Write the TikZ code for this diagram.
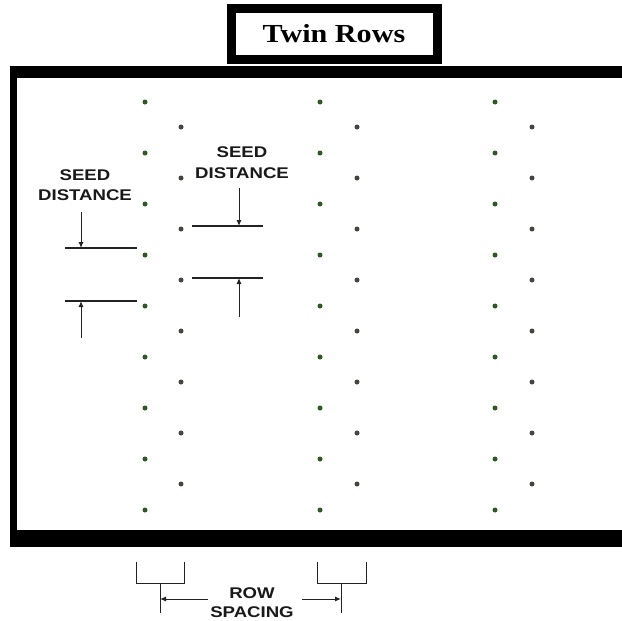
\documentclass[tikz,border=0pt]{standalone}
\usepackage{fontspec}
\setmainfont{Liberation Serif}
\newfontfamily\labelfont{Liberation Sans}
\usetikzlibrary{arrows.meta}
\definecolor{dotgreen}{RGB}{48,88,36}
\definecolor{dotgrey}{RGB}{64,72,64}
\definecolor{linegrey}{RGB}{35,35,35}
\tikzset{
  seedA/.style={circle,fill=dotgreen,inner sep=0pt,minimum size=5pt},
  seedB/.style={circle,fill=dotgrey,inner sep=0pt,minimum size=5pt},
  lbl/.style={font=\labelfont\bfseries\fontsize{15.5}{15.5}\selectfont,xscale=1.2,inner sep=0pt,text=black!90},
  refline/.style={draw=linegrey,line width=1.4pt},
  dimarrow/.style={draw=linegrey,line width=1pt,-{Latex[length=6pt,width=5pt]}},
  plainline/.style={draw=linegrey,line width=1pt}
}
\begin{document}
\begin{tikzpicture}[x=1pt,y=-1pt]
\useasboundingbox (0,0) rectangle (622,621);
\fill[white] (0,0) rectangle (622,621);
% main frame
\begin{scope}
\clip (0,0) rectangle (622,621);
\fill[black] (10,66) rectangle (640,547);
\fill[white] (17,78) rectangle (640,530);
\end{scope}
% title box
\draw[line width=9pt,fill=white] (231.5,8) rectangle (437.5,59);
\node[font=\bfseries\fontsize{26}{26}\selectfont,xscale=1.16,inner sep=0pt] (title) at (334,34) {Twin Rows};
% seeds
\foreach \cx/\n in {145/a,320/c,495/e}{
  \foreach \i in {0,...,8}{
    \node[seedA] (\n\i) at (\cx,{102+51*\i}) {};
  }
}
\foreach \cx/\n in {181/b,357/d,532/f}{
  \foreach \i in {0,...,7}{
    \node[seedB] (\n\i) at (\cx,{127+51*\i}) {};
  }
}
% left seed distance
\node[lbl] (sdl1) at (85,175) {SEED};
\node[lbl] (sdl2) at (85,195) {DISTANCE};
\coordinate (l1a) at (65,248); \coordinate (l1b) at (137,248);
\coordinate (l2a) at (65,301); \coordinate (l2b) at (137,301);
\draw[refline] (l1a) -- (l1b);
\draw[refline] (l2a) -- (l2b);
\coordinate (la1) at (81,212); \coordinate (la2) at (81,248);
\coordinate (la3) at (81,338); \coordinate (la4) at (81,301);
\draw[dimarrow] (la1) -- (la2);
\draw[dimarrow] (la3) -- (la4);
% right seed distance
\node[lbl] (sdr1) at (242,152) {SEED};
\node[lbl] (sdr2) at (242,173) {DISTANCE};
\coordinate (r1a) at (192,226); \coordinate (r1b) at (263,226);
\coordinate (r2a) at (192,278); \coordinate (r2b) at (263,278);
\draw[refline] (r1a) -- (r1b);
\draw[refline] (r2a) -- (r2b);
\coordinate (ra1) at (239,188); \coordinate (ra2) at (239,226);
\coordinate (ra3) at (239,317); \coordinate (ra4) at (239,278);
\draw[dimarrow] (ra1) -- (ra2);
\draw[dimarrow] (ra3) -- (ra4);
% row spacing
\draw[plainline] (136,562) |- (184,583) -- (184,562);
\draw[plainline] (160,583) -- (160,613);
\draw[plainline] (317,562) |- (366,583) -- (366,562);
\draw[plainline] (341,583) -- (341,613);
\coordinate (rs1) at (208,599); \coordinate (rs2) at (160,599);
\coordinate (rs3) at (302,599); \coordinate (rs4) at (341,599);
\draw[dimarrow] (rs1) -- (rs2);
\draw[dimarrow] (rs3) -- (rs4);
\node[lbl] (row1) at (252,593) {ROW};
\node[lbl] (row2) at (252,612) {SPACING};
\end{tikzpicture}
\end{document}
